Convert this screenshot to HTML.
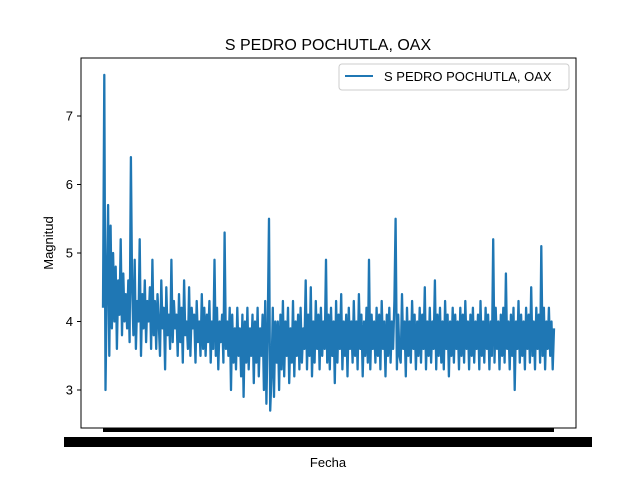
<!DOCTYPE html>
<html><head><meta charset="utf-8"><style>
body{margin:0;background:#fff;font-family:"Liberation Sans","DejaVu Sans",sans-serif}
</style></head><body>
<svg id="chart" width="640" height="480" xmlns="http://www.w3.org/2000/svg">
<rect width="640" height="480" fill="#fff"/>
<text x="328" y="50" font-size="16" text-anchor="middle">S PEDRO POCHUTLA, OAX</text>
<g id="plot"></g>
<rect x="81" y="58" width="495" height="370" fill="none" stroke="#000" stroke-width="1"/>
<rect x="103" y="428" width="451" height="4" fill="#000"/>
<rect x="64" y="437" width="528" height="10" fill="#000"/>
<text x="328" y="467" font-size="13" text-anchor="middle">Fecha</text>
<text x="53" y="243" font-size="13" text-anchor="middle" transform="rotate(-90 53 243)">Magnitud</text>
<g id="yaxis"></g>
<g>
<rect x="339" y="64" width="230" height="26" rx="3" fill="#fff" stroke="#ccc"/>
<line x1="345" y1="76" x2="373" y2="76" stroke="#1f77b4" stroke-width="2"/>
<text x="384" y="81" font-size="13">S PEDRO POCHUTLA, OAX</text>
</g>
</svg>
<script>
const yTicks=[3,4,5,6,7];
const magnitudes=[
4.2,7.6,3.0,4.5,5.7,3.5,5.4,3.9,5.0,4.0,4.8,3.6,4.6,4.1,5.2,3.8,4.7,4.0,4.4,3.9,
4.6,3.7,6.4,4.5,3.8,4.9,3.6,4.3,4.0,5.2,3.5,4.4,3.9,4.6,3.7,4.3,4.0,4.5,3.6,4.9,
3.8,4.3,3.6,4.4,4.0,3.5,4.6,3.9,4.2,3.3,4.5,3.8,4.1,3.6,4.9,3.7,4.3,3.9,4.1,3.5,
4.4,3.7,4.2,3.4,4.6,3.8,4.0,3.6,4.5,3.5,4.2,3.9,4.1,3.4,4.3,3.7,4.0,3.5,4.4,3.6,
4.2,3.5,4.1,3.7,4.3,3.4,4.0,3.6,4.9,3.5,4.2,3.3,4.0,3.7,4.1,3.4,5.3,3.6,4.0,3.5,
4.2,3.0,4.1,3.4,3.9,3.3,4.2,3.5,3.9,3.2,4.1,2.9,4.0,3.4,4.2,3.3,3.9,3.5,4.1,3.1,
4.0,3.4,4.2,3.2,3.9,3.5,4.1,3.0,4.3,2.8,3.9,5.5,2.7,3.2,4.2,2.9,4.0,3.4,4.0,3.0,
4.1,3.3,4.3,3.2,4.0,3.5,4.2,3.1,3.9,3.4,4.3,3.2,4.0,3.5,4.1,3.3,4.2,3.4,3.9,3.6,
4.6,3.3,4.1,3.5,4.5,3.2,4.0,3.4,4.3,3.6,4.1,3.3,4.2,3.5,4.0,3.6,4.9,3.4,4.1,3.3,
4.2,3.5,4.0,3.1,4.3,3.4,4.1,3.6,4.4,3.3,4.0,3.5,4.1,3.2,4.2,3.6,4.0,3.4,4.3,3.5,
4.0,3.3,4.4,3.6,4.1,3.2,4.0,3.5,4.2,3.4,4.9,3.3,4.1,3.6,4.0,3.4,4.2,3.5,4.1,3.3,
4.3,3.6,4.0,3.2,4.1,3.5,4.2,3.4,4.0,3.6,4.3,5.5,3.3,4.1,3.5,3.4,4.4,3.6,4.0,3.2,
4.2,3.5,4.0,3.4,4.3,3.6,4.1,3.3,4.0,3.5,4.2,3.4,4.1,3.6,4.5,3.3,4.0,3.5,4.2,3.4,
4.0,3.6,4.6,3.3,4.1,3.5,4.2,3.4,4.0,3.3,4.3,3.6,4.1,3.2,4.0,3.5,4.2,3.4,4.1,3.6,
4.0,3.3,4.2,3.5,4.1,3.4,4.3,3.6,4.0,3.3,4.1,3.5,4.2,3.4,4.0,3.6,4.1,3.3,4.3,3.5,
4.0,3.4,4.2,3.6,4.1,3.3,4.0,3.5,5.2,3.4,4.2,3.6,4.0,3.3,4.1,3.5,4.2,3.4,4.7,3.6,
4.0,3.3,4.1,3.5,4.2,3.0,4.0,3.6,4.3,3.4,4.1,3.5,4.0,3.3,4.2,3.6,4.1,3.4,4.5,3.5,
4.0,3.3,4.2,3.6,4.1,3.4,5.1,3.5,4.2,3.3,4.0,3.6,4.2,3.5,4.0,3.3,3.9];
const X0=103,X1=554;
function xs(i){return X0+i*(X1-X0)/(magnitudes.length-1);}
function ys(v){return 390-(v-3)*68.5;}
const NS="http://www.w3.org/2000/svg";
const ya=document.getElementById('yaxis');
yTicks.forEach(t=>{
 const l=document.createElementNS(NS,'line');
 l.setAttribute('x1',77);l.setAttribute('x2',81);l.setAttribute('y1',ys(t));l.setAttribute('y2',ys(t));l.setAttribute('stroke','#000');
 
 
 ya.appendChild(l);
 const tx=document.createElementNS(NS,'text');
 tx.setAttribute('x',73);tx.setAttribute('y',ys(t)+4.5);tx.setAttribute('font-size','13');tx.setAttribute('text-anchor','end');
 tx.textContent=t;
 
 
 ya.appendChild(tx);
});
const p=document.createElementNS(NS,'polyline');
p.setAttribute('points',magnitudes.map((v,i)=>xs(i).toFixed(1)+','+ys(v).toFixed(1)).join(' '));
p.setAttribute('fill','none');p.setAttribute('stroke','#1f77b4');p.setAttribute('stroke-width','2.3');p.setAttribute('stroke-linejoin','round');


document.getElementById('plot').appendChild(p);
</script>
</body></html>
